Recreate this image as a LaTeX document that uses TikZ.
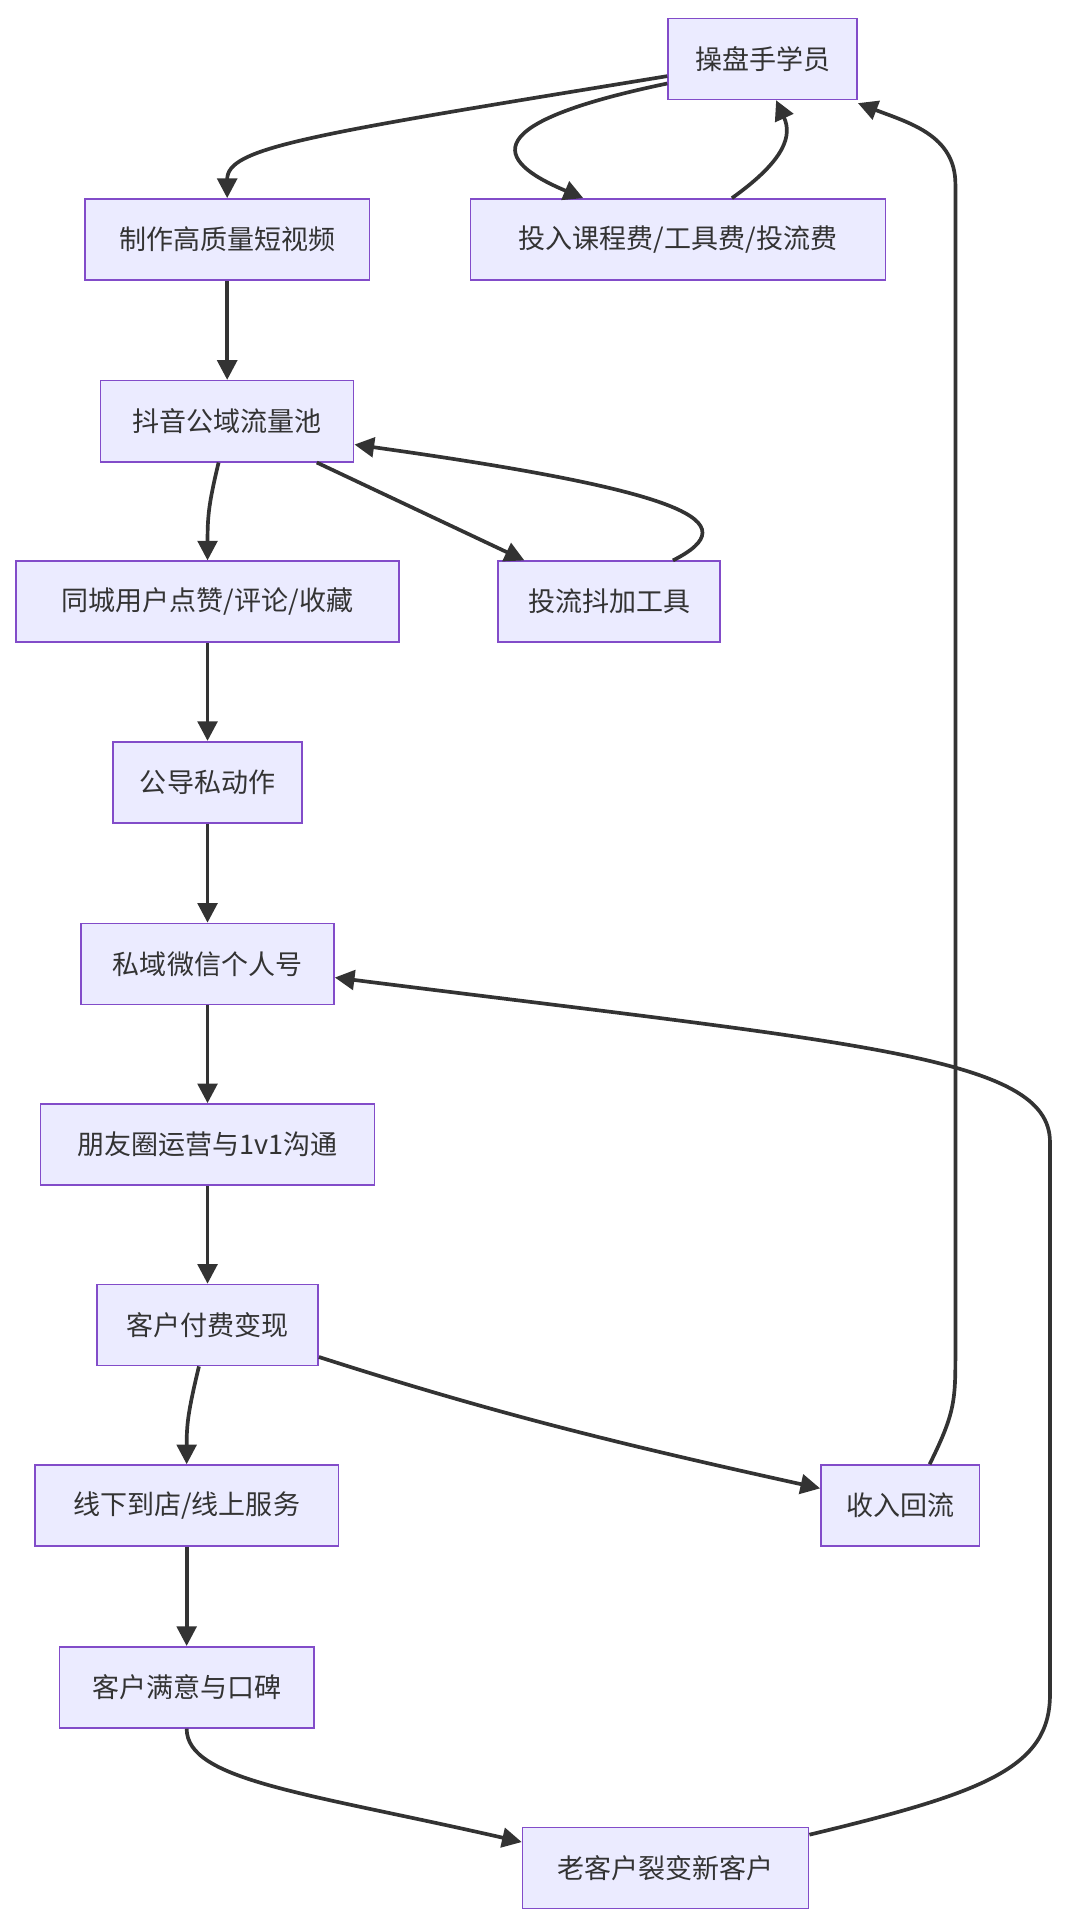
\documentclass[tikz,border=0pt]{standalone}
\usepackage{fontspec}
\setmainfont{Noto Sans CJK SC}
\usetikzlibrary{arrows.meta}
\begin{document}
\begin{tikzpicture}[x=1pt,y=-1pt,
  box/.style={draw=violet!60!blue!70!white, line width=1.3pt, fill=blue!8, minimum height=66pt, inner sep=0pt, font=\fontsize{22}{24}\selectfont, text=black!80},
  arr/.style={line width=3pt, draw=black!80, -{Triangle[length=16pt,width=16pt]}}]
\useasboundingbox (0,0) rectangle (870,1570);
\node[box,minimum width=154pt] (n1) at (621,48) {操盘手学员};
\node[box,minimum width=232pt] (n2) at (185,195) {制作高质量短视频};
\node[box,minimum width=338pt] (n3) at (552,195) {投入课程费/工具费/投流费};
\node[box,minimum width=206pt] (n4) at (185,343) {抖音公域流量池};
\node[box,minimum width=312pt] (n5) at (169,490) {同城用户点赞/评论/收藏};
\node[box,minimum width=181pt] (n6) at (496,490) {投流抖加工具};
\node[box,minimum width=154pt] (n7) at (169,637) {公导私动作};
\node[box,minimum width=206pt] (n8) at (169,785) {私域微信个人号};
\node[box,minimum width=272pt] (n9) at (169,932) {朋友圈运营与1v1沟通};
\node[box,minimum width=180pt] (n10) at (169,1079) {客户付费变现};
\node[box,minimum width=247pt] (n11) at (152,1226) {线下到店/线上服务};
\node[box,minimum width=129pt] (n12) at (733,1226) {收入回流};
\node[box,minimum width=207pt] (n13) at (152,1374) {客户满意与口碑};
\node[box,minimum width=233pt] (n14) at (542,1521) {老客户裂变新客户};
\draw[arr] (n1.west|-0,62) .. controls (250,110) and (185,120) .. (n2.north);
\draw[arr] (n1.west|-0,68) .. controls (390,100) and (400,130) .. (n3.north-|475,0);
\draw[arr] (n3.north-|596,0) .. controls (640,130) and (645,110) .. (n1.south-|632,0);
\draw[arr] (n2) -- (n4);
\draw[arr] (n4.south-|178,0) .. controls (170,410) and (169,420) .. (n5.north);
\draw[arr] (n4.south-|258,0) -- (n6.north-|427,0);
\draw[arr] (n6.north-|548,0) .. controls (610,425) and (560,400) .. (n4.east|-0,362);
\draw[arr] (n5) -- (n7);
\draw[arr] (n7) -- (n8);
\draw[arr] (n8) -- (n9);
\draw[arr] (n9) -- (n10);
\draw[arr] (n10.south-|162,0) .. controls (153,1150) and (152,1160) .. (n11.north);
\draw[arr] (n10.east|-0,1105) .. controls (400,1150) and (500,1175) .. (n12.west|-0,1212);
\draw[arr] (n12.north-|757,0) .. controls (778,1150) and (778,1140) .. (778,1100) -- (778,150) .. controls (778,110) and (740,100) .. (n1.east|-0,84);
\draw[arr] (n11) -- (n13);
\draw[arr] (n13.south) .. controls (152,1450) and (250,1460) .. (n14.west|-0,1500);
\draw[arr] (n14.east|-0,1494) .. controls (800,1460) and (855,1440) .. (855,1380) -- (855,930) .. controls (855,860) and (700,850) .. (n8.east|-0,796);
\end{tikzpicture}
\end{document}
